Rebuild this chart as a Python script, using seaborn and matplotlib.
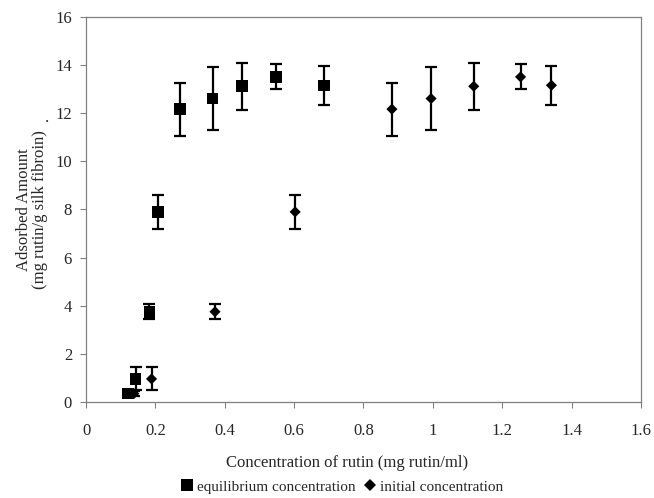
import matplotlib
matplotlib.use("Agg")
import matplotlib.pyplot as plt
import seaborn as sns
import numpy as np
import pandas as pd

# data
adsorbed = [0.35, 0.96, 3.75, 7.9, 12.17, 12.61, 13.12, 13.51, 13.16]
err_up = [0.1, 0.51, 0.31, 0.69, 1.09, 1.31, 0.98, 0.52, 0.8]
err_dn = [0.1, 0.46, 0.30, 0.71, 1.11, 1.29, 0.98, 0.51, 0.8]
x_equilibrium = [0.121, 0.143, 0.183, 0.208, 0.271, 0.365, 0.449, 0.548, 0.686]
x_initial = [0.138, 0.189, 0.372, 0.603, 0.882, 0.995, 1.118, 1.253, 1.342]
series_names = ["equilibrium concentration", "initial concentration"]
x_tick_labels = ["0", "0.2", "0.4", "0.6", "0.8", "1", "1.2", "1.4", "1.6"]

df = pd.DataFrame({
    "x": x_equilibrium + x_initial,
    "y": adsorbed + adsorbed,
    "series": [series_names[0]] * len(adsorbed) + [series_names[1]] * len(adsorbed),
})

sns.set_theme(style="white")
plt.rcParams['font.family'] = ['Liberation Serif', 'DejaVu Serif']

fig = plt.figure(figsize=(6.54, 4.98), dpi=100)
ax = fig.add_axes([0.1315, 0.1928, 0.8485, 0.7731])

for xs in (x_equilibrium, x_initial):
    ax.errorbar(xs, adsorbed, yerr=[err_dn, err_up], fmt="none", ecolor="black",
                elinewidth=1.6, capsize=4.5, capthick=1.6, zorder=2)

sns.scatterplot(data=df, x="x", y="y", hue="series", style="series", size="series",
                markers={series_names[0]: "s", series_names[1]: "D"},
                palette={series_names[0]: "black", series_names[1]: "black"},
                sizes={series_names[0]: 70, series_names[1]: 32},
                edgecolor="black", linewidth=0, ax=ax, zorder=3, legend=True)

ax.set_xlim(0, 1.6)
ax.set_ylim(0, 16)
ax.set_xticks(np.arange(0, 1.61, 0.2))
ax.set_xticklabels(x_tick_labels)
ax.set_yticks(range(0, 17, 2))
ax.tick_params(axis="both", direction="out", length=4, width=0.8, color="#808080",
               labelsize=12, bottom=True, left=True)
ax.tick_params(axis="x", pad=11)
ax.tick_params(axis="y", pad=6)
for s in ax.spines.values():
    s.set_color("#808080")
    s.set_linewidth(0.9)

ax.set_xlabel("Concentration of rutin (mg rutin/ml)", fontsize=12)
ax.xaxis.set_label_coords(0.47, -0.137)
ax.set_ylabel("Adsorbed Amount\n(mg rutin/g silk fibroin)", fontsize=12, linespacing=1.05)
ax.yaxis.set_label_coords(-0.068, 0.5)

fig.text(47 / 654, 1 - 118 / 498, ".", fontsize=12, ha="center", va="center")

handles, labels = ax.get_legend_handles_labels()
for h, sz in zip(handles, [42, 26]):
    try:
        h.set_sizes([sz])
    except Exception:
        pass
leg = ax.legend(handles, labels, loc="center", bbox_to_anchor=(342 / 654, 1 - 487 / 498),
                bbox_transform=fig.transFigure, ncol=2, frameon=False, fontsize=11,
                handletextpad=0.25, columnspacing=0.5, handlelength=0.8)

fig.savefig("out.png", dpi=100)
